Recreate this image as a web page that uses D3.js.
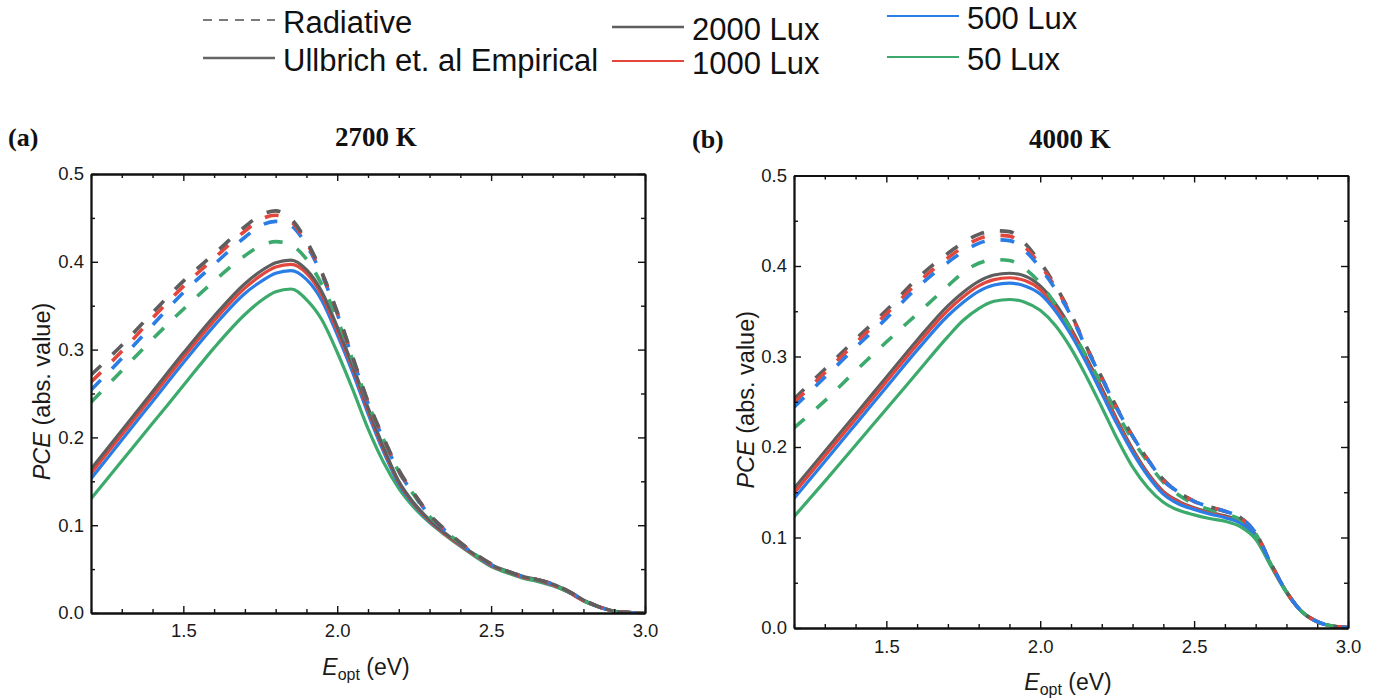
<!DOCTYPE html>
<html>
<head>
<meta charset="utf-8">
<script src="https://cdn.jsdelivr.net/npm/d3@7"></script>
<style>
  body { margin: 0; background: #fff; }
  svg { display: block; }
</style>
</head>
<body>
<svg id="chart" width="1378" height="700"></svg>
<script>
// photon energy grid (eV), shared by every curve
const energy = [1.2, 1.3, 1.4, 1.5, 1.6, 1.7, 1.75, 1.8, 1.85, 1.9, 1.95, 2.0, 2.05, 2.1, 2.15, 2.2,
  2.25, 2.3, 2.35, 2.4, 2.45, 2.5, 2.55, 2.6, 2.65, 2.7, 2.75, 2.8, 2.85, 2.9, 2.95, 3.0];

// (a) 2700 K -- radiative limit (dashed)
const rad2700_2000 = [0.271, 0.305, 0.342, 0.378, 0.409, 0.440, 0.453, 0.458, 0.449, 0.424, 0.388, 0.343, 0.292, 0.241, 0.200, 0.163,
  0.136, 0.112, 0.095, 0.080, 0.067, 0.056, 0.048, 0.042, 0.038, 0.033, 0.025, 0.015, 0.007, 0.002, 0.0005, 0];
const rad2700_1000 = [0.263, 0.298, 0.336, 0.372, 0.404, 0.435, 0.448, 0.453, 0.446, 0.422, 0.387, 0.342, 0.291, 0.240, 0.199, 0.162,
  0.136, 0.112, 0.095, 0.080, 0.067, 0.056, 0.048, 0.042, 0.038, 0.033, 0.025, 0.015, 0.007, 0.002, 0.0005, 0];
const rad2700_500 = [0.254, 0.290, 0.328, 0.365, 0.397, 0.428, 0.441, 0.446, 0.441, 0.419, 0.385, 0.341, 0.290, 0.239, 0.198, 0.161,
  0.135, 0.111, 0.094, 0.079, 0.066, 0.055, 0.048, 0.042, 0.038, 0.033, 0.025, 0.015, 0.007, 0.002, 0.0005, 0];
const rad2700_50 = [0.240, 0.276, 0.312, 0.346, 0.378, 0.407, 0.418, 0.423, 0.419, 0.403, 0.374, 0.335, 0.288, 0.239, 0.198, 0.161,
  0.134, 0.110, 0.094, 0.079, 0.066, 0.055, 0.047, 0.041, 0.037, 0.032, 0.024, 0.014, 0.007, 0.002, 0.0005, 0];

// (a) 2700 K -- Ullbrich et al. empirical (solid)
const emp2700_2000 = [0.164, 0.208, 0.252, 0.296, 0.338, 0.375, 0.389, 0.399, 0.402, 0.391, 0.366, 0.326, 0.282, 0.234, 0.189, 0.150,
  0.125, 0.106, 0.091, 0.078, 0.066, 0.055, 0.048, 0.042, 0.038, 0.033, 0.025, 0.015, 0.007, 0.002, 0.0005, 0];
const emp2700_1000 = [0.159, 0.203, 0.247, 0.291, 0.333, 0.370, 0.384, 0.394, 0.397, 0.387, 0.362, 0.322, 0.279, 0.231, 0.187, 0.149,
  0.124, 0.105, 0.090, 0.077, 0.065, 0.054, 0.047, 0.041, 0.037, 0.032, 0.024, 0.014, 0.007, 0.002, 0.0005, 0];
const emp2700_500 = [0.153, 0.197, 0.241, 0.285, 0.327, 0.364, 0.377, 0.387, 0.390, 0.380, 0.356, 0.317, 0.274, 0.227, 0.184, 0.147,
  0.123, 0.104, 0.090, 0.077, 0.065, 0.054, 0.047, 0.041, 0.037, 0.032, 0.024, 0.014, 0.007, 0.002, 0.0005, 0];
const emp2700_50 = [0.130, 0.173, 0.216, 0.259, 0.302, 0.340, 0.355, 0.366, 0.369, 0.357, 0.334, 0.297, 0.255, 0.210, 0.172, 0.142,
  0.120, 0.103, 0.089, 0.076, 0.064, 0.053, 0.046, 0.040, 0.036, 0.031, 0.024, 0.014, 0.007, 0.002, 0.0005, 0];

// (b) 4000 K -- radiative limit (dashed)
const rad4000_2000 = [0.253, 0.286, 0.319, 0.351, 0.386, 0.414, 0.426, 0.435, 0.439, 0.438, 0.425, 0.404, 0.378, 0.347, 0.311, 0.277,
  0.243, 0.212, 0.186, 0.164, 0.150, 0.140, 0.134, 0.129, 0.122, 0.105, 0.071, 0.040, 0.018, 0.007, 0.002, 0.0005];
const rad4000_1000 = [0.249, 0.282, 0.315, 0.347, 0.381, 0.409, 0.421, 0.430, 0.434, 0.433, 0.421, 0.401, 0.376, 0.346, 0.310, 0.276,
  0.242, 0.212, 0.186, 0.163, 0.150, 0.140, 0.134, 0.129, 0.122, 0.105, 0.071, 0.040, 0.018, 0.007, 0.002, 0.0005];
const rad4000_500 = [0.244, 0.277, 0.310, 0.342, 0.376, 0.404, 0.416, 0.425, 0.429, 0.428, 0.417, 0.398, 0.374, 0.345, 0.309, 0.276,
  0.242, 0.212, 0.186, 0.163, 0.150, 0.140, 0.134, 0.129, 0.122, 0.105, 0.071, 0.040, 0.018, 0.007, 0.002, 0.0005];
const rad4000_50 = [0.221, 0.251, 0.284, 0.316, 0.347, 0.378, 0.393, 0.403, 0.407, 0.406, 0.397, 0.381, 0.357, 0.330, 0.300, 0.269,
  0.237, 0.208, 0.183, 0.161, 0.147, 0.137, 0.131, 0.126, 0.120, 0.104, 0.070, 0.040, 0.018, 0.007, 0.002, 0.0005];

// (b) 4000 K -- Ullbrich et al. empirical (solid)
const emp4000_2000 = [0.154, 0.195, 0.236, 0.277, 0.318, 0.356, 0.371, 0.383, 0.390, 0.392, 0.389, 0.378, 0.358, 0.331, 0.299, 0.265,
  0.230, 0.198, 0.171, 0.151, 0.140, 0.133, 0.128, 0.124, 0.118, 0.103, 0.070, 0.040, 0.018, 0.007, 0.002, 0.0005];
const emp4000_1000 = [0.149, 0.190, 0.231, 0.272, 0.313, 0.351, 0.366, 0.378, 0.385, 0.387, 0.384, 0.374, 0.354, 0.328, 0.296, 0.262,
  0.228, 0.196, 0.170, 0.150, 0.139, 0.132, 0.127, 0.123, 0.117, 0.102, 0.070, 0.040, 0.018, 0.007, 0.002, 0.0005];
const emp4000_500 = [0.143, 0.184, 0.225, 0.266, 0.307, 0.345, 0.360, 0.372, 0.379, 0.381, 0.378, 0.369, 0.350, 0.324, 0.293, 0.259,
  0.225, 0.194, 0.168, 0.148, 0.137, 0.131, 0.126, 0.122, 0.116, 0.101, 0.069, 0.040, 0.018, 0.007, 0.002, 0.0005];
const emp4000_50 = [0.123, 0.162, 0.202, 0.242, 0.282, 0.322, 0.340, 0.353, 0.361, 0.363, 0.360, 0.351, 0.334, 0.309, 0.278, 0.244,
  0.209, 0.178, 0.155, 0.139, 0.130, 0.125, 0.121, 0.118, 0.112, 0.098, 0.068, 0.039, 0.018, 0.007, 0.002, 0.0005];

const luxLabels = ['2000 Lux', '1000 Lux', '500 Lux', '50 Lux'];
const luxColors = ['#5e5e5e', '#e2463d', '#2b7de6', '#3caa6c'];
const xMajor = [1.5, 2.0, 2.5, 3.0];
const yMajor = [0.0, 0.1, 0.2, 0.3, 0.4, 0.5];

const svg = d3.select('#chart');
const FONT = 'Arial, "Liberation Sans", Helvetica, sans-serif';
const SERIF = '"Times New Roman", "Liberation Serif", serif';

function drawPanel(p) {
  const x = d3.scaleLinear().domain([1.2, 3.0]).range([p.left, p.right]);
  const y = d3.scaleLinear().domain([0, 0.5]).range([p.bottom, p.top]);
  const xMinor = d3.range(1.2, 3.0001, 0.1).map(v => +v.toFixed(2)).filter(v => !xMajor.includes(v));
  const yMinor = d3.range(0.05, 0.5, 0.1).map(v => +v.toFixed(2));

  const clipId = 'clip-' + p.id;
  svg.append('clipPath').attr('id', clipId).append('rect')
    .attr('x', p.left).attr('y', p.top).attr('width', p.right - p.left).attr('height', p.bottom - p.top);

  const line = d3.line().x((d, i) => x(energy[i])).y(d => y(d)).curve(d3.curveMonotoneX);
  const plot = svg.append('g').attr('clip-path', `url(#${clipId})`);

  // solids first, dashed on top, in the stacking order of the picture
  p.solidOrder.forEach(k => {
    plot.append('path').attr('d', line(p.emp[k])).attr('fill', 'none')
      .attr('stroke', luxColors[k]).attr('stroke-width', 3.2);
  });
  p.dashOrder.forEach(k => {
    plot.append('path').attr('d', line(p.rad[k])).attr('fill', 'none')
      .attr('stroke', luxColors[k]).attr('stroke-width', 3.6).attr('stroke-dasharray', '14,16');
  });

  // axes: ticks inward on all four sides
  const fmt = d3.format('.1f');
  const styleAxis = g => {
    g.select('.domain').attr('stroke', '#111').attr('stroke-width', 1.8);
    g.selectAll('.tick line').attr('stroke', '#111').attr('stroke-width', 1.4);
    g.selectAll('text').attr('font-family', FONT).attr('font-size', 18.5).attr('fill', '#1a1a1a');
  };
  svg.append('g').attr('transform', `translate(0,${p.bottom})`)
    .call(d3.axisBottom(x).tickValues(xMajor).tickFormat(fmt).tickSizeInner(-7).tickSizeOuter(0).tickPadding(p.xPad))
    .call(styleAxis);
  svg.append('g').attr('transform', `translate(0,${p.bottom})`)
    .call(d3.axisBottom(x).tickValues(xMinor).tickFormat('').tickSizeInner(-4).tickSizeOuter(0)).call(styleAxis);
  svg.append('g').attr('transform', `translate(0,${p.top})`)
    .call(d3.axisTop(x).tickValues(xMajor).tickFormat('').tickSizeInner(-7).tickSizeOuter(0)).call(styleAxis);
  svg.append('g').attr('transform', `translate(0,${p.top})`)
    .call(d3.axisTop(x).tickValues(xMinor).tickFormat('').tickSizeInner(-4).tickSizeOuter(0)).call(styleAxis);
  svg.append('g').attr('transform', `translate(${p.left},0)`)
    .call(d3.axisLeft(y).tickValues(yMajor).tickFormat(fmt).tickSizeInner(-7).tickSizeOuter(0).tickPadding(7))
    .call(styleAxis);
  svg.append('g').attr('transform', `translate(${p.left},0)`)
    .call(d3.axisLeft(y).tickValues(yMinor).tickFormat('').tickSizeInner(-4).tickSizeOuter(0)).call(styleAxis);
  svg.append('g').attr('transform', `translate(${p.right},0)`)
    .call(d3.axisRight(y).tickValues(yMajor).tickFormat('').tickSizeInner(-7).tickSizeOuter(0)).call(styleAxis);
  svg.append('g').attr('transform', `translate(${p.right},0)`)
    .call(d3.axisRight(y).tickValues(yMinor).tickFormat('').tickSizeInner(-4).tickSizeOuter(0)).call(styleAxis);

  // panel letter and title
  svg.append('text').attr('x', p.letterX).attr('y', p.titleY).text(p.letter)
    .attr('font-family', SERIF).attr('font-weight', 'bold').attr('font-size', 26).attr('fill', '#111');
  svg.append('text').attr('x', p.titleX).attr('y', p.titleY).attr('text-anchor', 'middle').text(p.title)
    .attr('font-family', SERIF).attr('font-weight', 'bold').attr('font-size', 27).attr('fill', '#111');

  // y title
  const yt = svg.append('text').attr('transform', `translate(${p.yTitleX},${(p.top + p.bottom) / 2 - 2}) rotate(-90)`)
    .attr('text-anchor', 'middle').attr('dy', '0.35em')
    .attr('font-family', FONT).attr('font-size', 23.5).attr('fill', '#1a1a1a');
  yt.append('tspan').attr('font-style', 'italic').text('PCE');
  yt.append('tspan').text(' (abs. value)');

  // x title
  const xt = svg.append('text').attr('x', p.xTitleX).attr('y', p.xTitleY).attr('text-anchor', 'middle')
    .attr('font-family', FONT).attr('font-size', 23).attr('fill', '#1a1a1a');
  xt.append('tspan').attr('font-style', 'italic').text('E');
  xt.append('tspan').attr('font-size', 16).attr('dy', 5).text('opt');
  xt.append('tspan').attr('dy', -5).text(' (eV)');
}

drawPanel({
  id: 'a', left: 91, right: 645, top: 174, bottom: 613, xPad: 11,
  letter: '(a)', letterX: 8, title: '2700 K', titleX: 376, titleY: 146,
  yTitleX: 42, xTitleX: 366, xTitleY: 675,
  rad: [rad2700_2000, rad2700_1000, rad2700_500, rad2700_50],
  emp: [emp2700_2000, emp2700_1000, emp2700_500, emp2700_50],
  solidOrder: [3, 2, 1, 0], dashOrder: [3, 2, 1, 0]
});
drawPanel({
  id: 'b', left: 794, right: 1348, top: 175.5, bottom: 628, xPad: 12,
  letter: '(b)', letterX: 692, title: '4000 K', titleX: 1070, titleY: 148,
  yTitleX: 746, xTitleX: 1068, xTitleY: 690,
  rad: [rad4000_2000, rad4000_1000, rad4000_500, rad4000_50],
  emp: [emp4000_2000, emp4000_1000, emp4000_500, emp4000_50],
  solidOrder: [0, 1, 2, 3], dashOrder: [3, 0, 1, 2]
});

// legend
const legendRows = [
  { label: 'Radiative', x: 203, y: 20, color: '#7a7a7a', dash: '9,7', w: 2 },
  { label: 'Ullbrich et. al Empirical', x: 203, y: 58, color: '#666', dash: null, w: 2.5 },
  { label: luxLabels[0], x: 612, y: 27, color: luxColors[0], dash: null, w: 2.5 },
  { label: luxLabels[1], x: 612, y: 61, color: luxColors[1], dash: null, w: 2 },
  { label: luxLabels[2], x: 887, y: 16, color: luxColors[2], dash: null, w: 2 },
  { label: luxLabels[3], x: 887, y: 57, color: luxColors[3], dash: null, w: 2 }
];
const leg = svg.append('g');
legendRows.forEach(r => {
  leg.append('line').attr('x1', r.x).attr('x2', r.x + 72).attr('y1', r.y).attr('y2', r.y)
    .attr('stroke', r.color).attr('stroke-width', r.w).attr('stroke-dasharray', r.dash);
  leg.append('text').attr('x', r.x + 80).attr('y', r.y + 2).attr('dy', '0.35em').text(r.label)
    .attr('font-family', FONT).attr('font-size', 31).attr('fill', '#111');
});
</script>
</body>
</html>
